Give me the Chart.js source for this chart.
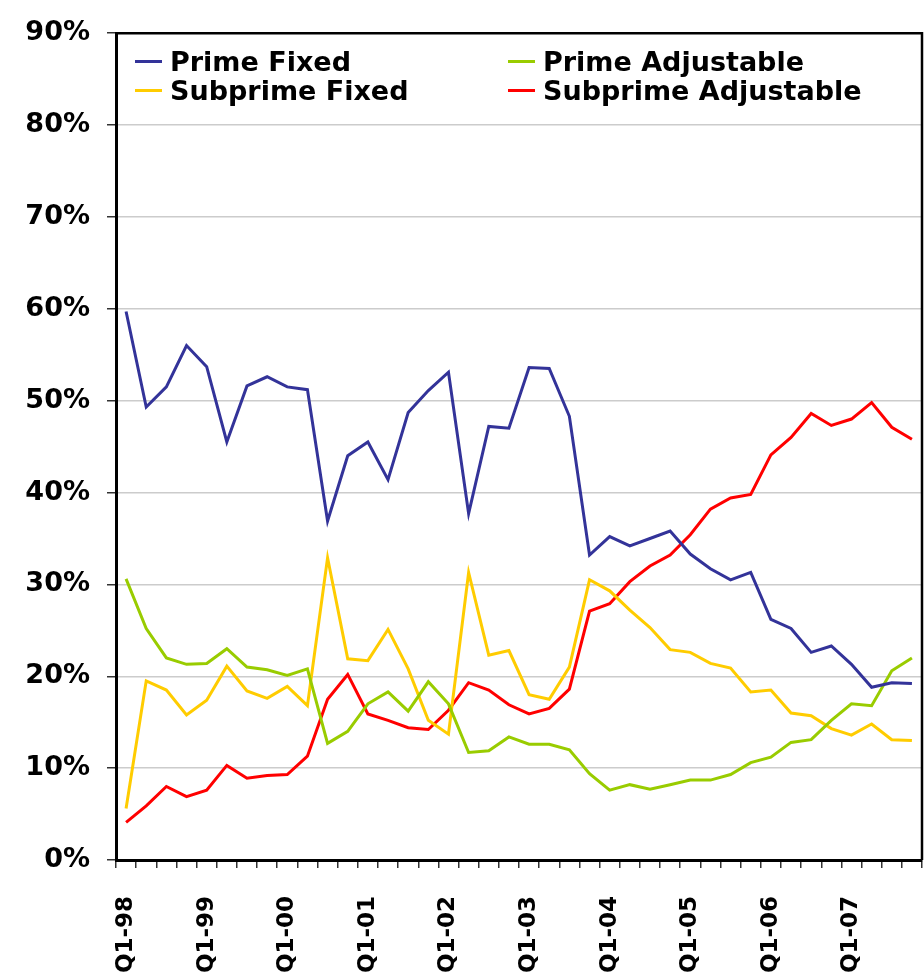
<!DOCTYPE html>
<html lang="en">
<head>
<meta charset="UTF-8">
<title>Mortgage shares</title>
<script src="https://cdn.jsdelivr.net/npm/chart.js@4.4.0/dist/chart.umd.min.js"></script>
<style>
    body{ margin:0; background:#fff; overflow:hidden; }
    #chart_parent{ position:relative; width:924px; height:974px; }
    #myChart{ display:block; }
    .item{ position:absolute; display:flex; align-items:center; white-space:nowrap;
           font:bold 27px "DejaVu Sans"; line-height:29px; color:#000; }
    .swatch{ width:27px; height:3px; margin-right:8px; }
</style>
</head>
<body>
<div id="chart_parent">
    <canvas id="myChart" width="924" height="974"></canvas>
    <div class="item" style="left:135px;top:47px"><span class="swatch" style="background:#333399"></span>Prime Fixed</div>
    <div class="item" style="left:508px;top:47px"><span class="swatch" style="background:#99cc00"></span>Prime Adjustable</div>
    <div class="item" style="left:135px;top:76px"><span class="swatch" style="background:#ffcc00"></span>Subprime Fixed</div>
    <div class="item" style="left:508px;top:76px"><span class="swatch" style="background:#ff0000"></span>Subprime Adjustable</div>
</div>
<script>
    // quarters Q1-98 .. Q4-07
    var v_labels = [
        'Q1-98','Q2-98','Q3-98','Q4-98','Q1-99','Q2-99','Q3-99','Q4-99',
        'Q1-00','Q2-00','Q3-00','Q4-00','Q1-01','Q2-01','Q3-01','Q4-01',
        'Q1-02','Q2-02','Q3-02','Q4-02','Q1-03','Q2-03','Q3-03','Q4-03',
        'Q1-04','Q2-04','Q3-04','Q4-04','Q1-05','Q2-05','Q3-05','Q4-05',
        'Q1-06','Q2-06','Q3-06','Q4-06','Q1-07','Q2-07','Q3-07','Q4-07'
    ];
    var v_primeFixed = [59.7,49.3,51.5,56.0,53.7,45.5,51.6,52.6,51.5,51.2,
                        36.9,44.0,45.5,41.4,48.7,51.1,53.1,37.7,47.2,47.0,
                        53.6,53.5,48.3,33.2,35.2,34.2,35.0,35.8,33.3,31.7,
                        30.5,31.3,26.2,25.2,22.6,23.3,21.3,18.8,19.3,19.2];
    var v_primeAdj = [30.6,25.2,22.0,21.3,21.4,23.0,21.0,20.7,20.1,20.8,
                      12.7,14.0,17.0,18.3,16.2,19.4,17.0,11.7,11.9,13.4,
                      12.6,12.6,12.0,9.4,7.6,8.2,7.7,8.2,8.7,8.7,
                      9.3,10.6,11.2,12.8,13.1,15.2,17.0,16.8,20.6,22.0];
    var v_subFixed = [5.6,19.5,18.5,15.8,17.4,21.1,18.4,17.6,18.9,16.8,
                      32.9,21.9,21.7,25.1,20.8,15.2,13.7,31.3,22.3,22.8,
                      18.0,17.5,21.0,30.5,29.3,27.2,25.3,22.9,22.6,21.4,
                      20.9,18.3,18.5,16.0,15.7,14.3,13.6,14.8,13.1,13.0];
    var v_subAdj = [4.1,5.9,8.0,6.9,7.6,10.3,8.9,9.2,9.3,11.3,
                    17.5,20.2,15.9,15.2,14.4,14.2,16.3,19.3,18.5,16.9,
                    15.9,16.5,18.6,27.1,27.9,30.3,32.0,33.2,35.4,38.2,
                    39.4,39.8,44.1,46.0,48.6,47.3,48.0,49.8,47.1,45.8];

    var f_line = function(label, data, color){
        return {label:label, data:data, borderColor:color, backgroundColor:color,
                borderWidth:3, pointRadius:0, tension:0, fill:false};
    };

    // box round the plot area (top and right side)
    var v_box = {
        id:'v_box',
        beforeDatasetsDraw: function(chart){
            var a = chart.chartArea, c = chart.ctx;
            c.save();
            c.strokeStyle = '#000';
            c.lineWidth = 2.5;
            c.beginPath();
            c.moveTo(a.left, a.top);
            c.lineTo(a.right, a.top);
            c.lineTo(a.right, a.bottom);
            c.stroke();
            c.restore();
        }
    };

    const ctx = document.getElementById('myChart').getContext('2d');
    const myChart = new Chart(ctx, {
        type:'line',
        data:{
            labels:v_labels,
            datasets:[
                f_line('Prime Fixed', v_primeFixed, '#333399'),
                f_line('Prime Adjustable', v_primeAdj, '#99cc00'),
                f_line('Subprime Fixed', v_subFixed, '#ffcc00'),
                f_line('Subprime Adjustable', v_subAdj, '#ff0000')
            ]
        },
        options:{
            responsive:false,
            animation:false,
            layout:{ padding:{top:25, right:2, left:0, bottom:0} },
            plugins:{ legend:{display:false}, tooltip:{enabled:false} },
            scales:{
                x:{
                    offset:true,
                    afterFit: function(s){ s.height = 114; s.paddingLeft = 0; s.paddingRight = 0; },
                    border:{ color:'#000', width:3 },
                    grid:{ drawOnChartArea:false, offset:true, tickLength:8, tickColor:'#333', lineWidth:1.5 },
                    ticks:{
                        autoSkip:false, minRotation:90, maxRotation:90, padding:28,
                        color:'#000', font:{family:'DejaVu Sans', size:23, weight:'bold'},
                        callback: function(v, i){ return i % 4 === 0 ? v_labels[i] : ''; }
                    }
                },
                y:{
                    min:0, max:90,
                    afterFit: function(s){ s.width = 116; },
                    border:{ color:'#000', width:3 },
                    grid:{ color:'#cccccc', lineWidth:1.5, tickLength:9, tickColor:'#333' },
                    ticks:{
                        stepSize:10, padding:17, color:'#000',
                        font:{family:'DejaVu Sans', size:27, weight:'bold'},
                        callback: function(v){ return v + '%'; }
                    }
                }
            }
        },
        plugins:[v_box]
    });
</script>
</body>
</html>
